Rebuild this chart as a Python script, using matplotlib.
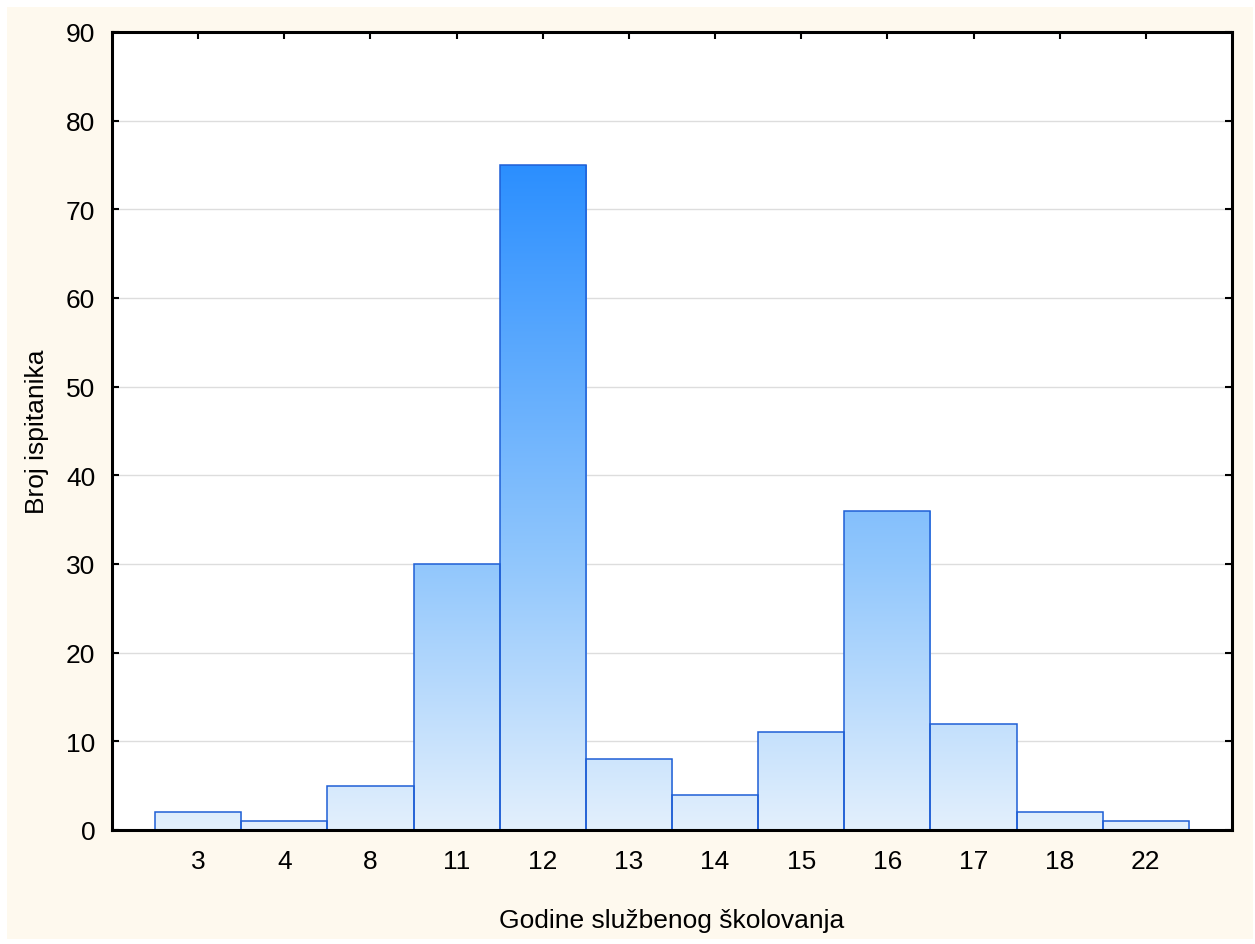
import numpy as np
import matplotlib.pyplot as plt
from matplotlib.colors import LinearSegmentedColormap
from matplotlib.patches import Rectangle

plt.rcParams['font.family'] = ['Liberation Sans', 'DejaVu Sans']

years = ["3", "4", "8", "11", "12", "13", "14", "15", "16", "17", "18", "22"]
counts = [2, 1, 5, 30, 75, 8, 4, 11, 36, 12, 2, 1]

x_label = "Godine službenog školovanja"
y_label = "Broj ispitanika"

fig = plt.figure(figsize=(12.55, 9.45), dpi=100, facecolor="white")
# cream panel with a thin white border round it
fig.patches.append(Rectangle((7 / 1255, 5 / 945), 1246 / 1255, 932 / 945,
                             transform=fig.transFigure, facecolor="#FEF9EE",
                             edgecolor="none", zorder=-10))
ax = fig.add_axes([112 / 1255, 1 - 831 / 945, 1120 / 1255, 798 / 945])
ax.set_facecolor("white")

pos = np.arange(len(years))
top = max(counts)

# vertical gradient, same colour for the same height in every bar
cmap = LinearSegmentedColormap.from_list(
    "grad", [(0.0, (0.89, 0.94, 0.99)), (0.4, (0.57, 0.78, 0.99)),
             (1.0, (0.17, 0.56, 1.0))])
grad = np.linspace(0, 1, 256).reshape(-1, 1)

for p, c in zip(pos, counts):
    rect = Rectangle((p - 0.5, 0), 1, c, facecolor="none", edgecolor="#1F5FD6",
                     linewidth=1.1, zorder=3)
    ax.add_patch(rect)
    im = ax.imshow(grad, cmap=cmap, origin="lower", aspect="auto",
                   extent=(p - 0.5, p + 0.5, 0, top), zorder=2)
    im.set_clip_path(rect)

ax.set_xlim(-1, len(years))
ax.set_ylim(0, 90)
ax.set_yticks(np.arange(0, 91, 10))
ax.set_xticks(pos)
ax.set_xticklabels(years)
ax.yaxis.grid(True, color="#DDDDDD", linewidth=1)
ax.set_axisbelow(True)

ax.tick_params(direction="in", length=5, width=1.5, labelsize=19,
               top=True, right=True, pad=14)
ax.tick_params(axis="y", pad=12)
for s in ax.spines.values():
    s.set_linewidth(2.2)
    s.set_zorder(5)

ax.set_xlabel(x_label, fontsize=19, labelpad=25)
ax.set_ylabel(y_label, fontsize=19, labelpad=12)

fig.savefig("out.png", dpi=100, facecolor=fig.get_facecolor())
